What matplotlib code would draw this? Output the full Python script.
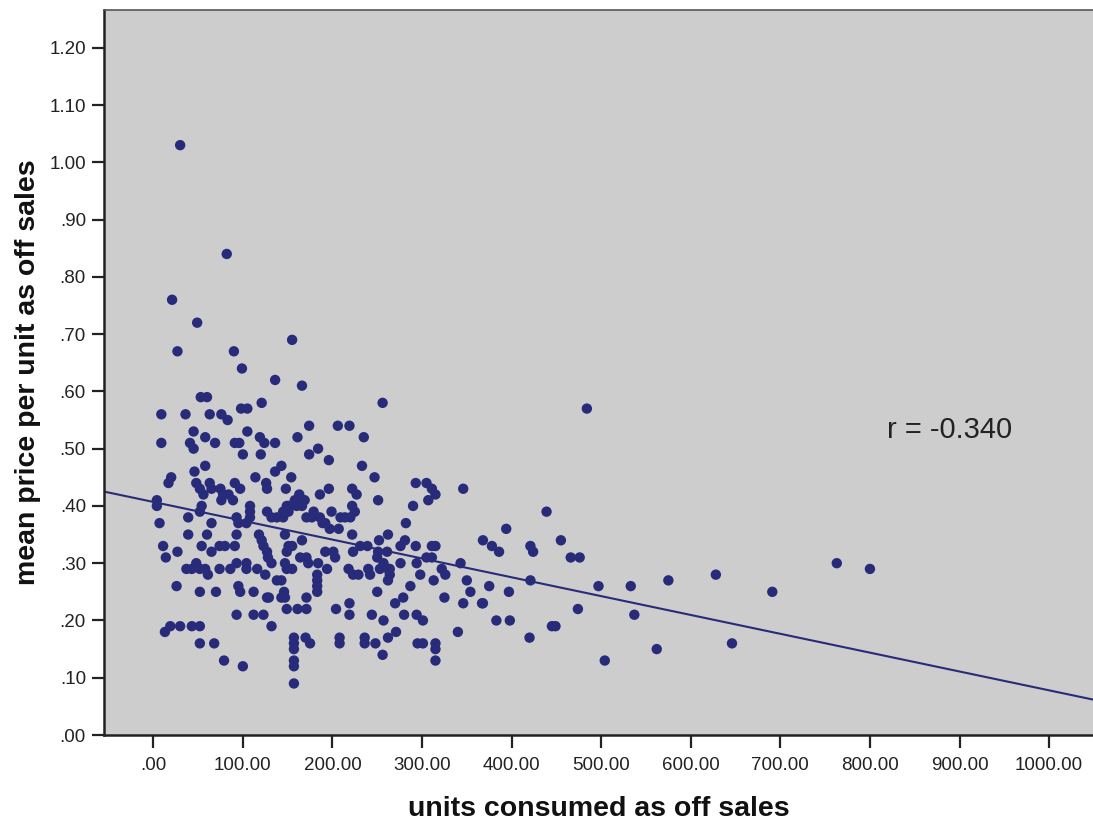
import numpy as np
import matplotlib
matplotlib.use("Agg")
import matplotlib.pyplot as plt
from matplotlib.ticker import FuncFormatter

# units consumed as off sales (x) and mean price per unit (y)
units = [
    30, 82, 21, 49, 27, 90, 99, 155, 136, 166, 53, 60, 121, 256, 98, 105, 484,
    9, 36, 63, 76, 83,
    174, 206, 219,
    45, 105,
    58, 119, 161, 235,
    9, 41, 69, 91, 96, 124, 136,
    45, 184,
    100, 120, 174,
    196,
    58, 143, 233,
    46, 136,
    20, 114, 154, 247,
    17, 48, 63, 91, 126, 293, 305,
    52, 65, 75, 97, 127, 148, 196, 222, 311, 346,
    56, 78, 84, 163, 186, 227, 315,
    4, 76, 89, 158, 169, 251, 307,
    4, 54, 108, 151, 149, 160, 166, 222, 290,
    52, 108, 127, 145, 151, 179, 199, 225, 439,
    39, 93, 108, 132, 138, 145, 171, 177, 186, 209, 214, 220,
    7, 65, 95, 104, 192, 189, 282,
    197, 207, 394,
    39, 60, 93, 118, 147, 222, 262,
    121, 166, 252, 281, 368, 455,
    11, 54, 74, 80, 91, 123, 151, 155, 231, 239, 276, 293, 311, 315, 378, 421,
    27, 65, 127, 149, 192, 201, 223, 251, 261, 386, 424,
    14, 128, 203, 164, 171, 250, 305, 311, 466, 476,
    48, 93, 104, 132, 147, 173, 184, 257, 276, 294, 343, 763,
    37, 43, 52, 58, 74, 86, 104, 116, 149, 155, 194, 218, 240, 253, 262, 264, 322, 800,
    61, 125, 183, 223, 229, 242, 264, 298, 326, 628,
    138, 143, 183, 262, 313, 350, 421, 575,
    26, 95, 183, 287, 375, 497, 533,
    52, 70, 97, 112, 146, 183, 250, 354, 397, 691,
    127, 129, 143, 147, 171, 279, 325,
    219, 270, 346, 367, 368,
    149, 161, 171, 204, 474,
    93, 112, 123, 219, 244, 280, 294, 537,
    257, 301, 383, 398,
    19, 30, 43, 52, 132, 445, 449,
    13, 271, 340,
    157, 170, 208, 236, 262, 420,
    52, 68, 157, 175, 208, 236, 248, 295, 301, 315, 646,
    157, 315, 562,
    256,
    79, 157, 315, 504,
    100, 157,
    157,
]
price = [
    1.03, .84, .76, .72, .67, .67, .64, .69, .62, .61, .59, .59, .58, .58, .57, .57, .57,
    .56, .56, .56, .56, .55,
    .54, .54, .54,
    .53, .53,
    .52, .52, .52, .52,
    .51, .51, .51, .51, .51, .51, .51,
    .50, .50,
    .49, .49, .49,
    .48,
    .47, .47, .47,
    .46, .46,
    .45, .45, .45, .45,
    .44, .44, .44, .44, .44, .44, .44,
    .43, .43, .43, .43, .43, .43, .43, .43, .43, .43,
    .42, .42, .42, .42, .42, .42, .42,
    .41, .41, .41, .41, .41, .41, .41,
    .40, .40, .40, .40, .40, .40, .40, .40, .40,
    .39, .39, .39, .39, .39, .39, .39, .39, .39,
    .38, .38, .38, .38, .38, .38, .38, .38, .38, .38, .38, .38,
    .37, .37, .37, .37, .37, .37, .37,
    .36, .36, .36,
    .35, .35, .35, .35, .35, .35, .35,
    .34, .34, .34, .34, .34, .34,
    .33, .33, .33, .33, .33, .33, .33, .33, .33, .33, .33, .33, .33, .33, .33, .33,
    .32, .32, .32, .32, .32, .32, .32, .32, .32, .32, .32,
    .31, .31, .31, .31, .31, .31, .31, .31, .31, .31,
    .30, .30, .30, .30, .30, .30, .30, .30, .30, .30, .30, .30,
    .29, .29, .29, .29, .29, .29, .29, .29, .29, .29, .29, .29, .29, .29, .29, .29, .29, .29,
    .28, .28, .28, .28, .28, .28, .28, .28, .28, .28,
    .27, .27, .27, .27, .27, .27, .27, .27,
    .26, .26, .26, .26, .26, .26, .26,
    .25, .25, .25, .25, .25, .25, .25, .25, .25, .25,
    .24, .24, .24, .24, .24, .24, .24,
    .23, .23, .23, .23, .23,
    .22, .22, .22, .22, .22,
    .21, .21, .21, .21, .21, .21, .21, .21,
    .20, .20, .20, .20,
    .19, .19, .19, .19, .19, .19, .19,
    .18, .18, .18,
    .17, .17, .17, .17, .17, .17,
    .16, .16, .16, .16, .16, .16, .16, .16, .16, .16, .16,
    .15, .15, .15,
    .14,
    .13, .13, .13, .13,
    .12, .12,
    .09,
]

# fit line as shown by SPSS
fit_intercept = 0.407
fit_slope = -0.000329
r_text = "r = -0.340"

x_ticks = [0, 100, 200, 300, 400, 500, 600, 700, 800, 900, 1000]
y_ticks = [0.0, 0.1, 0.2, 0.3, 0.4, 0.5, 0.6, 0.7, 0.8, 0.9, 1.0, 1.1, 1.2]

plt.rcParams['font.family'] = ['Liberation Sans', 'DejaVu Sans']

fig = plt.figure(figsize=(10.93, 8.25), dpi=100)
ax = fig.add_axes([104 / 1093, 90 / 825, 989 / 1093, 725 / 825])
navy = '#282b7a'
ax.set_facecolor('#cdcdcd')

ax.scatter(units, price, s=56, color=navy, edgecolors='none', zorder=3)
ax.axline((0, fit_intercept), slope=fit_slope, color=navy, linewidth=1.5, zorder=2)

ax.text(819, 0.532, r_text, fontsize=21, color='#222222', va='center', ha='left')

ax.set_xlim(-55, 1049)
ax.set_ylim(0, 1.266)
ax.set_xticks(x_ticks)
ax.set_yticks(y_ticks)


def spss_fmt(v, pos):
    s = f"{v:.2f}"
    if s.startswith("0."):
        s = s[1:]
    return s


ax.xaxis.set_major_formatter(FuncFormatter(spss_fmt))
ax.yaxis.set_major_formatter(FuncFormatter(spss_fmt))
ax.tick_params(axis='both', direction='out', length=9, width=1.6, colors='#222222',
               labelsize=13.5, pad=4)
ax.tick_params(axis='x', pad=7)

for side in ['left', 'bottom']:
    ax.spines[side].set_linewidth(1.8)
    ax.spines[side].set_color('#222222')
ax.spines['top'].set_linewidth(1.2)
ax.spines['top'].set_color('#555555')
ax.spines['right'].set_visible(False)

ax.set_xlabel('units consumed as off sales', fontsize=20.5, fontweight='bold',
              color='#111111', labelpad=16)
ax.set_ylabel('mean price per unit as off sales', fontsize=20.5, fontweight='bold',
              color='#111111', labelpad=6)

fig.savefig('out.png', dpi=100)
